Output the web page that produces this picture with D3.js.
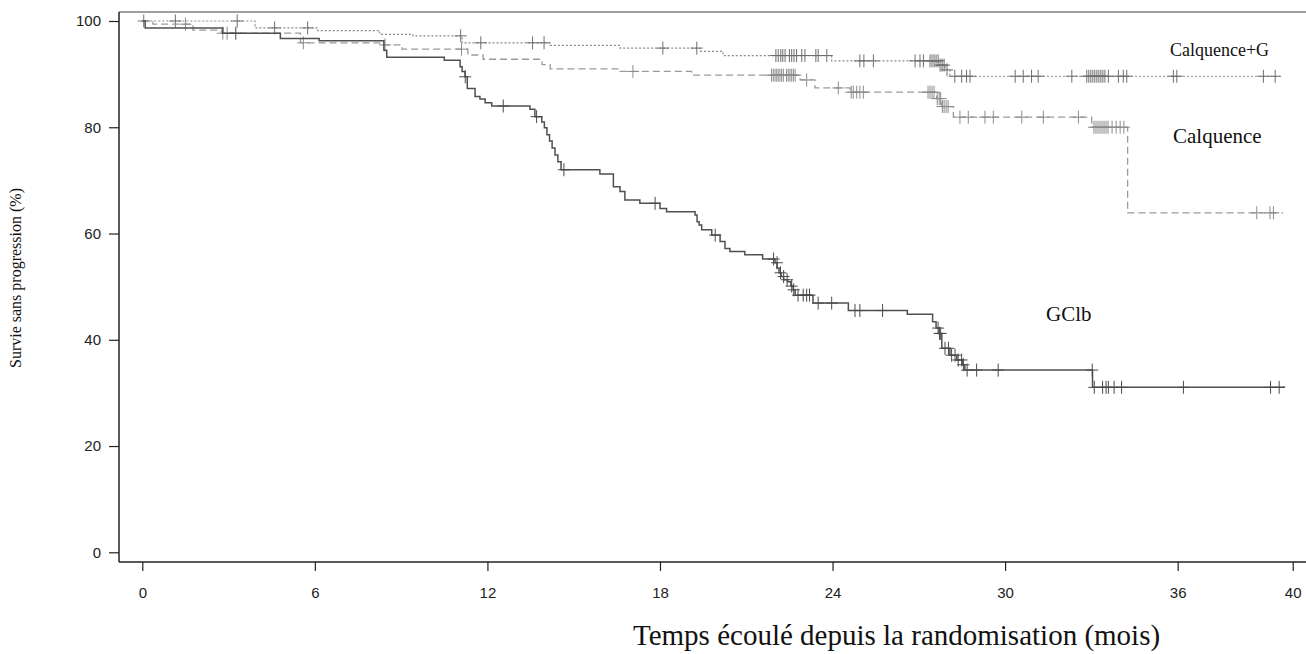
<!DOCTYPE html>
<html><head><meta charset="utf-8">
<script src="https://cdn.jsdelivr.net/npm/d3@7"></script>
<style>body{margin:0;background:#fff}svg{display:block}</style>
</head><body>
<svg id="chart" width="1306" height="654"></svg>
<script>
// ---------- DATA ----------
const seriesNames = ["Calquence+G", "Calquence", "GClb"];
const xTickValues = [0, 6, 12, 18, 24, 30, 36, 40];
const yTickValues = [0, 20, 40, 60, 80, 100];
const xTitle = "Temps écoulé depuis la randomisation (mois)";
const yTitle = "Survie sans progression (%)";

// Calquence+G (dotted)
const calgTimes = [0, 3.92, 6.1, 8.26, 9.41, 11.12, 14.18, 16.61, 19.39, 20.19, 23.97, 27.68, 27.91, 28.08];
const calgSurv  = [100, 98.7, 98.2, 97.5, 97.2, 95.9, 95.4, 94.9, 94.3, 93.5, 92.5, 91.7, 90.8, 89.6];
const calgEnd = 39.56;
const calgCensor = [0.05, 1.15, 3.3, 4.6, 5.75, 11.07, 11.77, 13.57, 13.97, 18.1, 19.28,
  22.03, 22.11, 22.2, 22.27, 22.35, 22.5, 22.58, 22.66, 22.75, 22.93, 23.04, 23.42, 23.5, 23.8,
  24.95, 25.09, 25.42, 26.87, 27.04, 27.16, 27.39, 27.46, 27.53, 27.6, 27.67, 27.74, 27.81, 27.88, 27.98,
  28.25, 28.49, 28.66, 28.78, 30.35, 30.63, 30.92, 31.15, 32.32,
  32.84, 32.91, 32.98, 33.05, 33.12, 33.19, 33.26, 33.33, 33.4, 33.47, 33.59, 33.94, 34.11, 34.23,
  35.85, 35.97, 38.98, 39.39];

// Calquence (dashed)
const calqTimes = [0, 0.37, 1.76, 2.75, 5.5, 8.37, 9.03, 11.32, 11.85, 13.9, 14.18, 16.61, 19.1, 22.87, 23.39, 24.61, 27.62, 27.8, 28.2, 33.01, 34.26];
const calqSurv  = [100, 99.4, 98.3, 97.7, 95.9, 95.5, 94.7, 93.6, 92.8, 91.8, 91.0, 90.5, 89.8, 88.9, 87.4, 86.6, 85.4, 83.9, 81.9, 80.0, 63.9];
const calqEnd = 39.67;
const calqCensor = [1.5, 2.8, 2.95, 5.6, 8.44, 11.1, 17.06,
  21.88, 21.94, 22.0, 22.06, 22.11, 22.17, 22.23, 22.29, 22.4, 22.46, 22.52, 22.58, 22.64, 22.7,
  23.1, 24.2, 24.65, 24.72, 24.84, 24.95, 25.07,
  27.32, 27.39, 27.46, 27.53, 27.64, 27.71, 27.76, 27.82, 27.88, 27.95, 28.02,
  28.43, 28.72, 29.3, 29.59, 30.58, 31.33, 32.55,
  33.09, 33.16, 33.23, 33.3, 33.37, 33.44, 33.51, 33.58, 33.72, 33.86, 34.0, 34.13,
  38.75, 39.21, 39.33];

// GClb (solid)
const gclbTimes = [0, 0.1, 2.8, 4.8, 6.15, 8.4, 8.5, 10.5, 11.05, 11.12, 11.22, 11.3, 11.57, 11.74, 11.92, 12.15,
  13.48, 13.65, 13.89, 13.98, 14.07, 14.16, 14.25, 14.35, 14.45, 14.56, 15.91, 16.38, 16.61, 16.78, 17.3,
  18.0, 18.23, 19.22, 19.29, 19.36, 19.45, 19.8, 20.09, 20.26, 20.43, 20.95, 21.57,
  22.0, 22.07, 22.14, 22.21, 22.3, 22.44, 22.55, 22.63, 22.7, 23.32, 24.55, 26.6,
  27.48, 27.6, 27.71, 27.8, 28.08, 28.32, 28.52, 28.6, 33.04];
const gclbSurv = [100, 98.7, 97.7, 96.7, 96.3, 94.5, 93.2, 92.6, 91.4, 90.5, 89.5, 87.3, 85.8, 85.3, 84.6, 84.0,
  83.4, 82.0, 81.0, 79.9, 78.6, 77.4, 76.1, 74.8, 73.5, 72.0, 71.2, 68.8, 67.9, 66.3, 65.7,
  64.7, 64.1, 63.5, 62.2, 61.6, 60.7, 59.7, 58.5, 57.2, 56.6, 56.0, 55.2,
  54.5, 53.5, 52.6, 51.9, 51.3, 50.9, 50.1, 49.4, 48.4, 46.9, 45.5, 44.8,
  43.4, 42.2, 41.2, 38.4, 37.1, 36.2, 35.3, 34.3, 31.05];
const gclbEnd = 39.73;
const gclbCensor = [3.25, 11.23, 12.55, 13.71, 14.66, 17.83, 19.92,
  21.95, 22.07, 22.19, 22.3, 22.42, 22.58, 22.65, 22.8, 22.98, 23.1, 23.2, 23.5, 23.97,
  24.78, 24.95, 25.74, 27.67, 27.72, 27.76, 27.91, 28.03, 28.14, 28.26, 28.37, 28.49, 28.55, 28.68,
  29.01, 29.76, 33.03, 33.1, 33.39, 33.51, 33.59, 33.79, 34.05, 36.2, 39.23, 39.53];

// ---------- DRAWING ----------
const svg = d3.select("#chart");
const x = d3.scaleLinear().domain([0, 40]).range([142.3, 1292.7]);
const y = d3.scaleLinear().domain([0, 100]).range([552.3, 21]);
const plotLeft = 119, plotTop = 12, plotBottom = 562, plotRight = 1306;

const tickFont = "'Liberation Sans', Arial, sans-serif";
const serif = "'Liberation Serif', 'Times New Roman', serif";

// y axis
const yAxis = d3.axisLeft(y).tickValues(yTickValues).tickSize(10).tickSizeOuter(0).tickPadding(8);
const gy = svg.append("g").attr("transform", `translate(${plotLeft},0)`).call(yAxis);
gy.select(".domain").remove();
gy.selectAll(".tick line").attr("stroke", "#222").attr("stroke-width", 1.2);
gy.selectAll(".tick text").attr("font-family", tickFont).attr("font-size", 15).attr("fill", "#222");

// x axis
const xAxis = d3.axisBottom(x).tickValues(xTickValues).tickSize(9).tickSizeOuter(0).tickPadding(16).tickFormat(d3.format("d"));
const gx = svg.append("g").attr("transform", `translate(0,${plotBottom})`).call(xAxis);
gx.select(".domain").remove();
gx.selectAll(".tick line").attr("stroke", "#222").attr("stroke-width", 1.2);
gx.selectAll(".tick text").attr("font-family", tickFont).attr("font-size", 15).attr("fill", "#222");

// frame
svg.append("line").attr("x1", plotLeft).attr("x2", plotRight).attr("y1", plotTop).attr("y2", plotTop)
  .attr("stroke", "#808080").attr("stroke-width", 1.5);
svg.append("line").attr("x1", plotLeft).attr("x2", plotLeft).attr("y1", plotTop).attr("y2", plotBottom)
  .attr("stroke", "#222").attr("stroke-width", 1.5);
svg.append("line").attr("x1", plotLeft).attr("x2", plotRight).attr("y1", plotBottom).attr("y2", plotBottom)
  .attr("stroke", "#222").attr("stroke-width", 1.5);

// curves
const curves = [
  {name: seriesNames[0], times: calgTimes, surv: calgSurv, end: calgEnd, censor: calgCensor,
   color: "#8a8a8a", mark: "#6e6e6e", dash: "2,2", width: 1.2},
  {name: seriesNames[1], times: calqTimes, surv: calqSurv, end: calqEnd, censor: calqCensor,
   color: "#9a9a9a", mark: "#8c8c8c", dash: "7,4", width: 1.3},
  {name: seriesNames[2], times: gclbTimes, surv: gclbSurv, end: gclbEnd, censor: gclbCensor,
   color: "#505050", mark: "#4a4a4a", dash: null, width: 1.5}
];

const line = d3.line().x(d => x(d[0])).y(d => y(d[1])).curve(d3.curveStepAfter);
function levelAt(c, t) {
  let v = c.surv[0];
  for (let i = 0; i < c.times.length; i++) { if (c.times[i] < t) v = c.surv[i]; }
  return v;
}

curves.forEach(c => {
  const pts = c.times.map((t, i) => [t, c.surv[i]]);
  pts.push([c.end, c.surv[c.surv.length - 1]]);
  const p = svg.append("path").datum(pts).attr("d", line)
    .attr("fill", "none").attr("stroke", c.color).attr("stroke-width", c.width);
  if (c.dash) p.attr("stroke-dasharray", c.dash);
  svg.append("g").selectAll("path").data(c.censor).join("path")
    .attr("d", t => { const cx = x(t), cy = y(levelAt(c, t));
      return `M${cx - 6},${cy}h12M${cx},${cy - 6.5}v13`; })
    .attr("stroke", c.mark).attr("stroke-width", 1).attr("fill", "none");
});

// series labels
svg.append("text").attr("x", 1170).attr("y", 56).attr("font-family", serif).attr("font-size", 18)
  .attr("fill", "#111").text(seriesNames[0]);
svg.append("text").attr("x", 1173).attr("y", 143).attr("font-family", serif).attr("font-size", 21)
  .attr("fill", "#111").text(seriesNames[1]);
svg.append("text").attr("x", 1046).attr("y", 321).attr("font-family", serif).attr("font-size", 21)
  .attr("fill", "#111").text(seriesNames[2]);

// axis titles
svg.append("text").attr("x", 633).attr("y", 645).attr("font-family", serif).attr("font-size", 29)
  .attr("fill", "#111").text(xTitle);
svg.append("text").attr("transform", "translate(21,368) rotate(-90)").attr("font-family", serif)
  .attr("font-size", 16).attr("fill", "#111").text(yTitle);
</script>
</body></html>
